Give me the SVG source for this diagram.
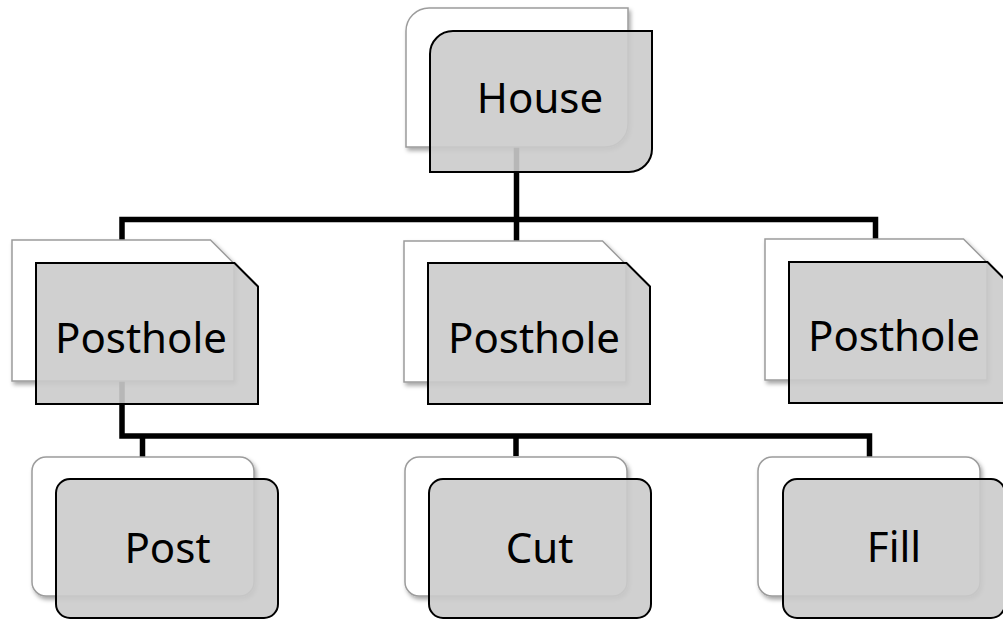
<svg xmlns="http://www.w3.org/2000/svg" width="1003" height="619" viewBox="0 0 1003 619">
<defs>
<filter id="sh" x="-10%" y="-10%" width="130%" height="130%">
<feDropShadow dx="2" dy="3" stdDeviation="2" flood-color="#000" flood-opacity="0.35"/>
</filter>
<style>
.back{fill:#ffffff;stroke:#9c9c9c;stroke-width:1.5;filter:url(#sh)}
.front{fill:#cbcbcb;fill-opacity:0.9;stroke:#000;stroke-width:2}
.lbl{font-family:"Noto Sans","Open Sans",sans-serif;font-size:42px;fill:#000;text-anchor:middle}
.conn{fill:none;stroke:#000;stroke-width:5.5;stroke-linejoin:miter}
</style>
</defs>
<rect width="1003" height="619" fill="#fff"/>
<g id="connectors">
<path class="conn" d="M122,241 V219.5 H875.5 V239"/>
<path class="conn" d="M516.5,147 V241"/>
<path class="conn" d="M122,381 V436 H869.5 V457"/>
<path class="conn" d="M142.5,436 V457"/>
<path class="conn" d="M516,436 V456"/>
</g>
<g id="house">
<path class="back" d="M429,8 H628 V124 A23,23 0 0 1 605,147 H406 V31 A23,23 0 0 1 429,8 Z"/>
<path class="front" d="M453,31 H652 V149 A23,23 0 0 1 629,172 H430 V54 A23,23 0 0 1 453,31 Z"/>
<text class="lbl" x="540" y="113">House</text>
</g>
<g id="posthole1">
<path class="back" d="M12,240 H210.5 L234,263.5 V381 H12 Z"/>
<path class="front" d="M36,263 H234.5 L258,286.5 V404 H36 Z"/>
<text class="lbl" x="141" y="353">Posthole</text>
</g>
<g id="posthole2">
<path class="back" d="M404,241 H602.5 L626,264.5 V382 H404 Z"/>
<path class="front" d="M428,263 H626.5 L650,286.5 V404 H428 Z"/>
<text class="lbl" x="534" y="353">Posthole</text>
</g>
<g id="posthole3">
<path class="back" d="M765,239 H963.5 L987,262.5 V380 H765 Z"/>
<path class="front" d="M789,262 H987.5 L1011,285.5 V403 H789 Z"/>
<text class="lbl" x="894" y="351">Posthole</text>
</g>
<g id="post">
<rect class="back" x="32" y="457" width="222" height="139" rx="14"/>
<rect class="front" x="56" y="479" width="222" height="139" rx="14"/>
<text class="lbl" x="167.5" y="563">Post</text>
</g>
<g id="cut">
<rect class="back" x="405" y="457" width="222" height="139" rx="14"/>
<rect class="front" x="429" y="479" width="222" height="139" rx="14"/>
<text class="lbl" x="539.5" y="563">Cut</text>
</g>
<g id="fill">
<rect class="back" x="758" y="457" width="222" height="139" rx="14"/>
<rect class="front" x="783" y="479" width="222" height="139" rx="14"/>
<text class="lbl" x="894" y="562">Fill</text>
</g>
</svg>
